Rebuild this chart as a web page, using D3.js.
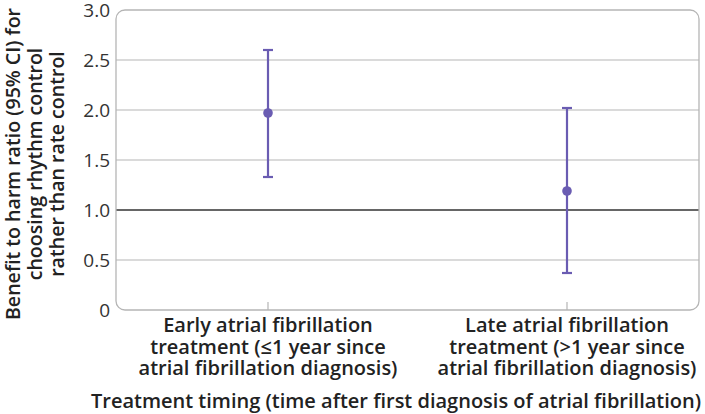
<!DOCTYPE html>
<html><head><meta charset="utf-8">
<script src="https://cdn.jsdelivr.net/npm/d3@7"></script>
<style>body{margin:0;background:#fff}text{font-family:"Open Sans",sans-serif}</style>
</head><body><svg id="c" width="705" height="414"></svg>
<script>
const categories = ["Early atrial fibrillation|treatment (\u22641 year since|atrial fibrillation diagnosis)",
                    "Late atrial fibrillation|treatment (>1 year since|atrial fibrillation diagnosis)"];
const estimates = [1.97, 1.19];
const lowerCI = [1.33, 0.37];
const upperCI = [2.60, 2.02];
const yTicks = [0, 0.5, 1.0, 1.5, 2.0, 2.5, 3.0];
const yTitle = ["Benefit to harm ratio (95% CI) for", "choosing rhythm control", "rather than rate control"];
const xTitle = "Treatment timing (time after first diagnosis of atrial fibrillation)";

const svg = d3.select("#c");
const box = {l:116, r:699, t:10, b:310};
const y = d3.scaleLinear().domain([0,3]).range([box.b, box.t]);
const x = d3.scalePoint().domain(categories).range([268, 567]);
const purple = "#6a5cb2";

// gridlines
svg.append("g").selectAll("line").data(yTicks.filter(v=>v>0 && v<3)).join("line")
  .attr("x1", box.l).attr("x2", box.r).attr("y1", d=>y(d)).attr("y2", d=>y(d))
  .attr("stroke", d=>d===1?"#333":"#b5b5b5").attr("stroke-width", d=>d===1?1.6:1.2);

// frame
svg.append("rect").attr("x", box.l).attr("y", box.t).attr("width", box.r-box.l).attr("height", box.b-box.t)
  .attr("rx", 9).attr("fill","none").attr("stroke","#b5b5b5").attr("stroke-width",1.3);

// x ticks
svg.append("g").selectAll("line").data(categories).join("line")
  .attr("x1", d=>x(d)).attr("x2", d=>x(d)).attr("y1", box.b).attr("y2", box.b-8)
  .attr("stroke","#b5b5b5").attr("stroke-width",1.2);

// y tick labels
svg.append("g").selectAll("text").data(yTicks).join("text")
  .attr("x", 110).attr("y", d=>y(d)).attr("dy","0.36em").attr("text-anchor","end")
  .attr("font-size",19).attr("fill","#333").text(d=>d===0?"0":d.toFixed(1));

// error bars
const g = svg.append("g");
categories.forEach((c,i)=>{
  g.append("line").attr("x1",x(c)).attr("x2",x(c)).attr("y1",y(lowerCI[i])).attr("y2",y(upperCI[i]))
    .attr("stroke",purple).attr("stroke-width",2.2);
  [lowerCI[i], upperCI[i]].forEach(v=>g.append("line").attr("x1",x(c)-5).attr("x2",x(c)+5)
    .attr("y1",y(v)).attr("y2",y(v)).attr("stroke",purple).attr("stroke-width",2.2));
  g.append("circle").attr("cx",x(c)).attr("cy",y(estimates[i])).attr("r",4.8).attr("fill",purple);
});

// category labels
categories.forEach(c=>{
  const t = svg.append("text").attr("text-anchor","middle").attr("font-size",20)
    .attr("font-weight",600).attr("fill","#222");
  c.split("|").forEach((s,j)=>t.append("tspan").attr("x",x(c)).attr("y",332+j*21.5).text(s));
});

// x title
svg.append("text").attr("x",396).attr("y",408).attr("text-anchor","middle").attr("font-size",20)
  .attr("font-weight",600).attr("fill","#222").text(xTitle);

// y title
const yt = svg.append("text").attr("transform","translate(0,164) rotate(-90)").attr("text-anchor","middle")
  .attr("font-size",19.6).attr("font-weight",600).attr("fill","#222");
yTitle.forEach((s,j)=>yt.append("tspan").attr("x",0).attr("y",20+j*22).text(s));
</script></body></html>
